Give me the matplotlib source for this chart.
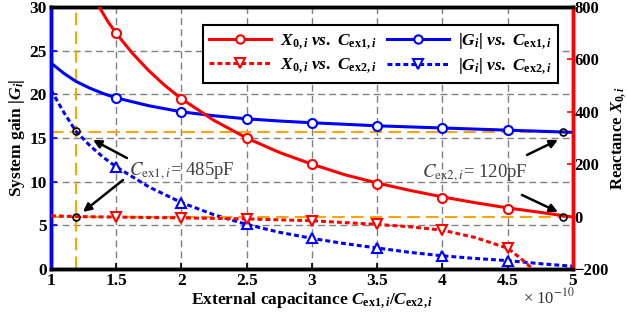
import matplotlib
matplotlib.use("Agg")
import matplotlib.pyplot as plt
from matplotlib.lines import Line2D

plt.rcParams['font.family'] = ['Liberation Serif', 'DejaVu Serif']
plt.rcParams['mathtext.fontset'] = 'custom'
plt.rcParams['mathtext.rm'] = 'Liberation Serif:bold'
plt.rcParams['mathtext.it'] = 'Liberation Serif:italic:bold'
plt.rcParams['mathtext.bf'] = 'Liberation Serif:bold'

# ---- data (x in units of 1e-10 F) ----
# X0 vs Cex1 (right axis, reactance)
x_red1_curve = [1.37, 1.44, 1.5, 1.62, 1.75, 1.87, 2.0, 2.25, 2.5, 2.75, 3.0, 3.25, 3.5, 3.75, 4.0, 4.25, 4.5, 4.75, 5.0]
y_red1_curve = [800, 742, 700, 626, 557, 502, 450, 367, 300, 245, 200, 160, 128, 100, 75, 53, 33, 16, -2]
x_marks = [1.5, 2.0, 2.5, 3.0, 3.5, 4.0, 4.5]
y_red1_marks = [700, 450, 300, 200, 125, 72, 30]

# |G| vs Cex1 (left axis)
x_blue1_curve = [1.0, 1.1, 1.19, 1.3, 1.4, 1.5, 1.75, 2.0, 2.25, 2.5, 2.75, 3.0, 3.5, 4.0, 4.5, 5.0]
y_blue1_curve = [23.6, 22.4, 21.5, 20.7, 20.1, 19.6, 18.7, 18.0, 17.55, 17.2, 16.95, 16.75, 16.4, 16.15, 15.9, 15.65]
y_blue1_marks = [19.6, 18.0, 17.2, 16.75, 16.4, 16.15, 15.9]

# X0 vs Cex2 (right axis)
x_red2_curve = [1.0, 1.19, 1.5, 2.0, 2.5, 3.0, 3.5, 3.75, 4.0, 4.25, 4.5, 4.6, 4.69]
y_red2_curve = [3, 0, -2, -5, -9, -16, -30, -39, -52, -80, -121, -160, -200]
y_red2_marks = [-2, -5, -9, -16, -30, -52, -121]

# |G| vs Cex2 (left axis)
x_blue2_curve = [1.0, 1.1, 1.19, 1.3, 1.4, 1.5, 1.75, 2.0, 2.25, 2.5, 2.75, 3.0, 3.25, 3.5, 3.75, 4.0, 4.25, 4.5, 4.75, 5.0]
y_blue2_curve = [20.5, 17.9, 15.8, 14.1, 12.8, 11.7, 9.4, 7.6, 6.2, 5.1, 4.2, 3.5, 2.9, 2.4, 1.9, 1.5, 1.2, 0.95, 0.6, 0.3]
y_blue2_marks = [11.7, 7.6, 5.1, 3.5, 2.4, 1.5, 0.95]

# highlighted operating points
x_op_left = 1.19
x_op_right = 4.92
g_op_left = 15.8
g_op_right = 15.7
x0_op = 0

xticks = [1, 1.5, 2, 2.5, 3, 3.5, 4, 4.5, 5]
xtick_labels = ['1', '1.5', '2', '2.5', '3', '3.5', '4', '4.5', '5']
yticks_left = [0, 5, 10, 15, 20, 25, 30]
yticks_right = [-200, 0, 200, 400, 600, 800]

RED = '#FF0000'
BLUE = '#0000FF'
ORANGE = '#FFA500'
dot = (0, (1.6, 1.0))

fig = plt.figure(figsize=(6.27, 3.24), dpi=100)
ax = fig.add_axes([0.0813, 0.170, 0.8325, 0.808])
ax2 = ax.twinx()

ax.set_xlim(1, 5)
ax.set_ylim(0, 30)
ax2.set_ylim(-200, 800)

ax.grid(True, color='#808080', linestyle=(0, (5, 3)), linewidth=1.0)
ax.set_axisbelow(True)

# orange guide lines
ax.axvline(x_op_left, color=ORANGE, linestyle=(0, (6, 3)), lw=1.5, zorder=2)
ax.axhline(g_op_right, color=ORANGE, linestyle=(0, (6, 3)), lw=1.5, zorder=2)

# left axis series
ax.plot(x_blue1_curve, y_blue1_curve, color=BLUE, lw=2.2, zorder=3)
ax.plot(x_marks, y_blue1_marks, 'o', color=BLUE, mfc='white', mew=1.5, ms=6.5, zorder=4)
ax.plot(x_blue2_curve, y_blue2_curve, color=BLUE, lw=2.2, linestyle=dot, zorder=3)
ax.plot(x_marks, y_blue2_marks, '^', color=BLUE, mfc='white', mew=1.5, ms=7, zorder=4)
ax.plot([x_op_left, x_op_right], [g_op_left, g_op_right], 'o', mfc='none', mec='black', mew=1.2, ms=5, zorder=5)

# right axis series
ax2.axhline(x0_op, color=ORANGE, linestyle=(0, (6, 3)), lw=1.5, zorder=2)
ax2.plot(x_red1_curve, y_red1_curve, color=RED, lw=2.2, zorder=3)
ax2.plot(x_marks, y_red1_marks, 'o', color=RED, mfc='white', mew=1.5, ms=6.5, zorder=4)
ax2.plot(x_red2_curve, y_red2_curve, color=RED, lw=2.2, linestyle=dot, zorder=3)
ax2.plot(x_marks, y_red2_marks, 'v', color=RED, mfc='white', mew=1.5, ms=7, zorder=4)
ax2.plot([x_op_left, x_op_right], [x0_op, x0_op], 'o', mfc='none', mec='black', mew=1.2, ms=5, zorder=5)

# ticks
ax.set_xticks(xticks)
ax.set_xticklabels(xtick_labels)
ax.set_yticks(yticks_left)
ax2.set_yticks(yticks_right)
for lab in ax.get_xticklabels() + ax.get_yticklabels():
    lab.set_fontweight('bold')
    lab.set_fontsize(12.5)
for lab in ax2.get_yticklabels():
    lab.set_fontweight('bold')
    lab.set_fontsize(12)
ax.tick_params(axis='both', direction='in', length=4, width=1.2, pad=3)
ax.tick_params(axis='y', colors=BLUE, labelcolor='black')
ax2.tick_params(axis='y', direction='in', length=4, width=1.2, colors=RED, labelcolor='black', pad=1)

# spines
for a in (ax, ax2):
    a.spines['top'].set_color('black')
    a.spines['bottom'].set_color('black')
    a.spines['left'].set_color(BLUE)
    a.spines['right'].set_color(RED)
    for s in a.spines.values():
        s.set_linewidth(2.5)

# labels
ax.set_ylabel(r'System gain $|G_i|$', fontsize=12.5, fontweight='bold', labelpad=2)
ax2.set_ylabel(r'Reactance $X_{0,i}$', fontsize=12, fontweight='bold', labelpad=0)
ax.set_xlabel(r'External capacitance $C_{\mathrm{ex1},i}/C_{\mathrm{ex2},i}$', fontsize=12.5,
              fontweight='bold', labelpad=1)
fig.text(0.917, 0.05, r'× 10$^{-10}$', fontsize=12, ha='right', va='bottom',
         color='#333333', math_fontfamily='stix')

# annotations
arrowprops = dict(arrowstyle='-|>', color='black', lw=1.8, mutation_scale=12, shrinkA=0, shrinkB=0)
ax.annotate('', xy=(1.322, 14.78), xytext=(1.582, 12.71), arrowprops=arrowprops, zorder=6)
ax.annotate('', xy=(1.245, 6.53), xytext=(1.552, 10.19), arrowprops=arrowprops, zorder=6)
ax.text(2.004, 11.15, r'$C_{\mathrm{ex1},i}$= 485pF', fontsize=13.5, color='#404040',
        ha='center', va='center', math_fontfamily='stix', zorder=6)
ax.annotate('', xy=(4.885, 14.78), xytext=(4.648, 13.06), arrowprops=arrowprops, zorder=6)
ax.annotate('', xy=(4.885, 6.53), xytext=(4.609, 8.48), arrowprops=arrowprops, zorder=6)
ax.text(4.245, 11.0, r'$C_{\mathrm{ex2},i}$= 120pF', fontsize=13.5, color='#404040',
        ha='center', va='center', math_fontfamily='stix', zorder=6)

# legend
handles = [
    Line2D([], [], color=RED, lw=2.2, marker='o', mfc='white', mew=1.5, ms=6),
    Line2D([], [], color=RED, lw=2.2, linestyle=dot, marker='v', mfc='white', mew=1.5, ms=6.5),
    Line2D([], [], color=BLUE, lw=2.2, marker='o', mfc='white', mew=1.5, ms=6),
    Line2D([], [], color=BLUE, lw=2.2, linestyle=dot, marker='v', mfc='white', mew=1.5, ms=6.5),
]
labels = [
    r'$X_{0,i}$ $vs.$ $C_{\mathrm{ex1},i}$',
    r'$X_{0,i}$ $vs.$ $C_{\mathrm{ex2},i}$',
    r'$|G_i|$ $vs.$ $C_{\mathrm{ex1},i}$',
    r'$|G_i|$ $vs.$ $C_{\mathrm{ex2},i}$',
]
leg = ax2.legend(handles, labels, ncol=2, loc='upper right', bbox_to_anchor=(0.971, 0.931),
                 fontsize=12.5, frameon=True, fancybox=False, framealpha=1, edgecolor='black',
                 handlelength=3.6, columnspacing=0.6, handletextpad=0.5, borderpad=0.35,
                 labelspacing=0.3, borderaxespad=0)
leg.get_frame().set_linewidth(1.5)
leg.set_zorder(10)

fig.savefig('out.png', dpi=100)
